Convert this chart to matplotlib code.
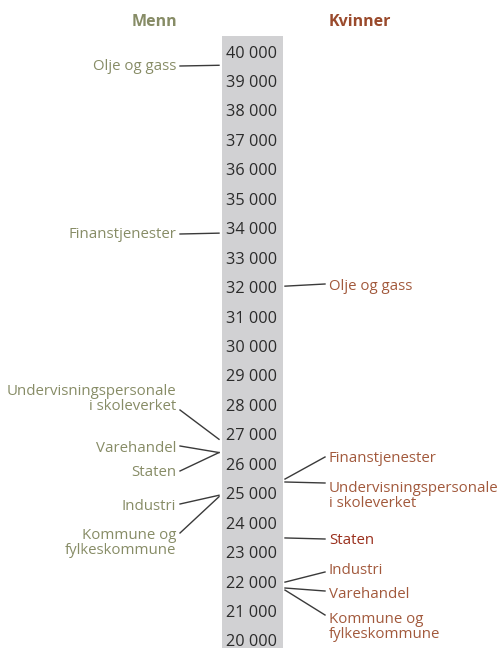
import matplotlib
matplotlib.use("Agg")
import matplotlib.pyplot as plt
from matplotlib.patches import Rectangle

# ---- data ----
tick_values = list(range(20000, 40001, 1000))
tick_labels = [f"{v // 1000} 000" for v in tick_values]

menn_sectors = ["Olje og gass", "Finanstjenester",
                "Undervisningspersonale\ni skoleverket", "Varehandel",
                "Staten", "Industri", "Kommune og\nfylkeskommune"]
menn_values = [39600, 33900, 26900, 26450, 26450, 25000, 24950]

kvinner_sectors = ["Olje og gass", "Finanstjenester",
                   "Undervisningspersonale\ni skoleverket", "Staten",
                   "Industri", "Varehandel", "Kommune og\nfylkeskommune"]
kvinner_values = [32100, 25550, 25450, 23550, 22050, 21850, 21780]

# ---- layout (pixel rows of the labels) ----
menn_label_px = [67, 235, 399, 448, 473, 506, 543]
menn_conn_px = [66, 234, 410, 446, 471, 504, 533]
kv_label_px = [286, 458, 496, 541, 571, 594, 627]
kv_conn_px = [284, 457, 483, 539, 572, 591, 615]

PX_TOP_VAL = 53.5      # pixel row of 40 000
PX_PER_K = 29.45       # pixels per 1000

def px2val(py):
    return 40000 - (py - PX_TOP_VAL) / PX_PER_K * 1000

W, H = 500, 648
fig = plt.figure(figsize=(W / 100, H / 100), dpi=100)
ax = fig.add_axes([0, 0, 1, 1])
ax.set_xlim(0, W)
ax.set_ylim(px2val(H), px2val(0))
ax.axis("off")

FONT = "Open Sans"
FS = 10.8
GREEN = "#878c66"
RED = "#a2593c"
RED_DARK = "#9a2f1c"
LINE = "#3a3a3a"
GRAY = "#d1d1d3"

# central band
band_top = px2val(36)
ax.add_patch(Rectangle((222, px2val(H) - 1000), 61, band_top - px2val(H) + 1000,
                       facecolor=GRAY, edgecolor="none", zorder=0))

for v, lab in zip(tick_values, tick_labels):
    ax.text(251.5, v, lab, ha="center", va="center", fontsize=11.7,
            family=FONT, color="#2b2b2b", zorder=2)

# headers
ax.text(154, px2val(21.5), "Menn", ha="center", va="center", fontsize=11.5,
        fontweight="bold", family=FONT, color=GREEN)
ax.text(360, px2val(21.5), "Kvinner", ha="center", va="center", fontsize=11.5,
        fontweight="bold", family=FONT, color="#9a4a2c")

# Menn labels
for name, v, lp, cp in zip(menn_sectors, menn_values, menn_label_px, menn_conn_px):
    ax.text(176, px2val(lp), name, ha="right", va="center", fontsize=FS,
            family=FONT, color=GREEN, linespacing=0.95)
    ax.plot([180, 219], [px2val(cp), v], color=LINE, lw=1.0)

# Kvinner labels
for name, v, lp, cp in zip(kvinner_sectors, kvinner_values, kv_label_px, kv_conn_px):
    col = RED_DARK if name == "Staten" else RED
    ax.text(329, px2val(lp), name, ha="left", va="center", fontsize=FS,
            family=FONT, color=col, linespacing=0.95)
    ax.plot([285, 325], [v, px2val(cp)], color=LINE, lw=1.0)

fig.savefig("out.png", dpi=100)
